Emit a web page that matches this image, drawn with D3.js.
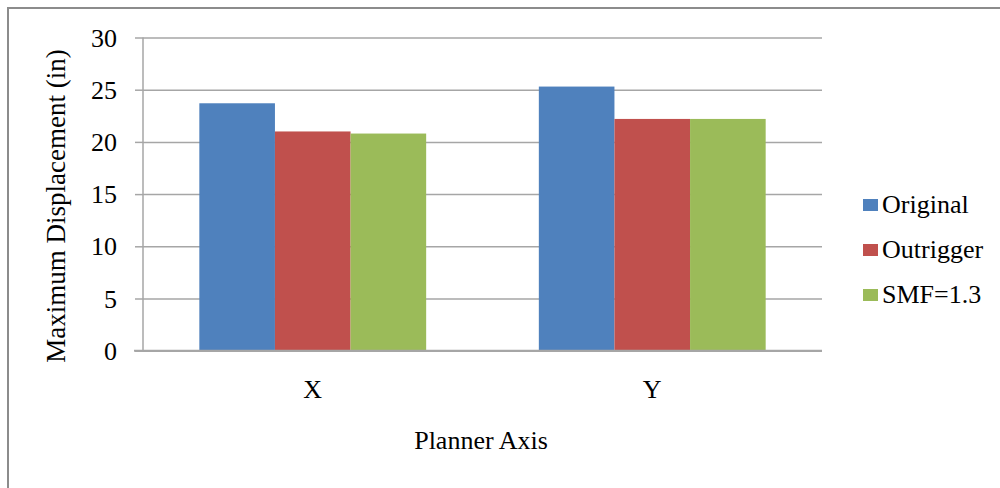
<!DOCTYPE html>
<html><head><meta charset="utf-8">
<script src="https://cdn.jsdelivr.net/npm/d3@7"></script>
<style>body{margin:0;background:#fff}svg{display:block}text{font-family:"Liberation Serif","Times New Roman",serif;fill:#000}</style>
</head><body><svg id="c" width="1000" height="488"></svg>
<script>
const categories = ["X", "Y"];
const seriesNames = ["Original", "Outrigger", "SMF=1.3"];
const original = [23.7, 25.3];
const outrigger = [21.0, 22.2];
const smf = [20.8, 22.2];
const yTicks = [0, 5, 10, 15, 20, 25, 30];
const colors = ["#4F81BD", "#C0504D", "#9BBB59"];
const seriesValues = [original, outrigger, smf];

const svg = d3.select("#c");
svg.append("rect").attr("x", 8).attr("y", 8).attr("width", 1010).attr("height", 500)
  .attr("fill", "none").attr("stroke", "#8c8c8c").attr("stroke-width", 2);

const L = 143, R = 822, T = 37.5, B = 350.7;
const y = d3.scaleLinear().domain([0, 30]).range([B, T]);
const x0 = d3.scaleBand().domain(categories).range([L, R]);
const x1 = d3.scaleBand().domain(seriesNames).range([0, x0.bandwidth()]).paddingInner(0).paddingOuter(0.745);

// gridlines
const grid = svg.append("g").attr("transform", `translate(${L},0)`)
  .call(d3.axisLeft(y).tickValues(yTicks).tickSize(-(R - L)).tickFormat(""));
grid.select(".domain").remove();
grid.selectAll("line").attr("stroke", "#a6a6a6").attr("stroke-width", 1.5);

// bars
categories.forEach((c, ci) => {
  seriesNames.forEach((s, si) => {
    const v = seriesValues[si][ci];
    svg.append("rect").attr("x", x0(c) + x1(s)).attr("y", y(v))
      .attr("width", x1.bandwidth()).attr("height", y(0) - y(v))
      .attr("fill", colors[si]);
  });
});

const serif = "Liberation Serif";
// y axis
const ya = svg.append("g").attr("transform", `translate(${L},0)`)
  .call(d3.axisLeft(y).tickValues(yTicks).tickSize(8).tickPadding(18));
ya.attr("font-family", serif);
ya.select(".domain").attr("stroke", "#a6a6a6").attr("stroke-width", 1.5).attr("d", `M0,${T}V${B}`);
ya.selectAll(".tick line").attr("stroke", "#a6a6a6").attr("stroke-width", 1.5);
ya.selectAll("text").style("font-size", "26px").style("font-family", serif).attr("fill", "#000").attr("dy", "0.33em");

// x axis
const xa = svg.append("g").attr("transform", `translate(0,${B})`)
  .call(d3.axisBottom(x0).tickSize(0).tickPadding(29));
xa.attr("font-family", serif);
xa.select(".domain").attr("stroke", "#a6a6a6").attr("stroke-width", 2).attr("d", `M${L - 9},0H${R}`);
xa.selectAll("text").style("font-size", "26px").style("font-family", serif).attr("fill", "#000");

// titles
svg.append("text").attr("x", 481).attr("y", 449).attr("text-anchor", "middle")
  .style("font-size", "26px").style("font-family", serif).text("Planner Axis");
svg.append("text").attr("transform", "translate(65,206) rotate(-90)").attr("text-anchor", "middle")
  .style("font-size", "27px").style("font-family", serif).text("Maximum Displacement (in)");

// legend
const lg = svg.append("g");
seriesNames.forEach((s, i) => {
  const cy = 205 + i * 45;
  lg.append("rect").attr("x", 863).attr("y", cy - 6).attr("width", 15).attr("height", 12).attr("fill", colors[i]);
  lg.append("text").attr("x", 882).attr("y", cy + 8).style("font-size", "26px").style("font-family", serif).text(s);
});
</script></body></html>
